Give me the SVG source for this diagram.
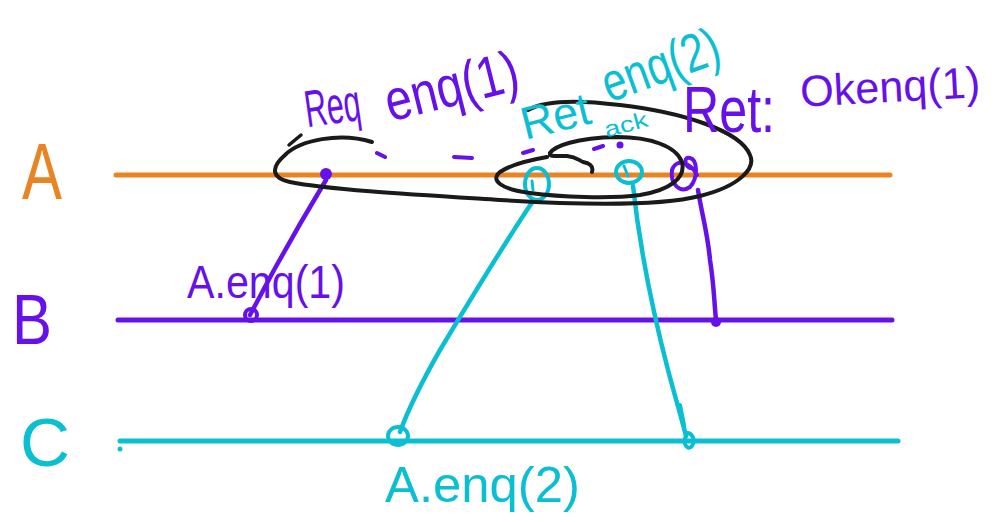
<svg xmlns="http://www.w3.org/2000/svg" width="1004" height="522" viewBox="0 0 1004 522">
<style>
.s{fill:none;stroke-linecap:round;stroke-linejoin:round}
.o{stroke:#ea8422}.p{stroke:#6610ea}.c{stroke:#0bbfd3}.k{stroke:#1a1a1a}
.t{font-family:"Liberation Sans",Arial,sans-serif}
.tp{fill:#6610ea}.tc{fill:#0bbfd3}.to{fill:#ea8422}
</style>
<rect width="1004" height="522" fill="#fff"/>
<g id="timelines">
<line class="s o" x1="116" y1="175" x2="890" y2="175" stroke-width="5"/>
<line class="s p" x1="118" y1="320" x2="892" y2="320" stroke-width="5"/>
<line class="s c" x1="120" y1="441" x2="898" y2="441" stroke-width="5"/>
<circle cx="120" cy="449" r="2.5" fill="#0bbfd3"/>
</g>
<g id="label-A"><text class="t to" x="22" y="199" font-size="80" textLength="40" lengthAdjust="spacingAndGlyphs">A</text></g>
<g id="label-B"><text class="t tp" x="12" y="344" font-size="70" textLength="40" lengthAdjust="spacingAndGlyphs">B</text></g>
<g id="label-C"><text class="t tc" x="20" y="466" font-size="68" textLength="50" lengthAdjust="spacingAndGlyphs">C</text></g>
<g id="connectors">
<path class="s p" stroke-width="4.5" d="M326 180 L300 224 L274 270 L250 315"/>
<path class="s c" stroke-width="4.5" d="M533 201 C500 250 470 300 440 350 C420 385 408 410 400 432"/>
<path class="s c" stroke-width="4.5" d="M633 186 C640 250 655 320 668 370 C676 400 682 420 686 436"/>
<path class="s p" stroke-width="4.5" d="M698 190 C702 215 708 235 710 260 C714 285 714 300 716 320"/>
</g>
<g id="node-A-req"><circle cx="326" cy="174" r="6" fill="#6610ea"/></g>
<g id="node-B-enq1"><circle class="s p" cx="251" cy="315" r="6" stroke-width="4"/></g>
<g id="node-C-enq2"><ellipse class="s c" cx="398" cy="436" rx="10" ry="9" stroke-width="4"/></g>
<g id="node-A-ret"><ellipse class="s c" cx="537" cy="184" rx="12" ry="16" stroke-width="4"/><path class="s c" stroke-width="3" d="M532 181 L533 190"/></g>
<g id="node-A-ack"><ellipse class="s c" cx="629" cy="172" rx="13" ry="11" stroke-width="4"/><path class="s c" stroke-width="3" d="M624 166 L628 176"/></g>
<g id="node-A-ok"><path class="s p" stroke-width="4" d="M697 175 C690 162 676 158 672 170 C670 184 680 194 690 187 C698 178 698 160 690 158 C684 156 684 165 690 168"/></g>
<g id="node-C-ack"><path class="s c" stroke-width="4" d="M680 405 L684 425 M686 433 C692 432 696 440 692 446 C688 451 682 444 686 436"/></g>
<g id="node-B-ok"><circle cx="716" cy="322" r="5" fill="#6610ea"/></g>
<g id="enclosures">
<path class="s k" stroke-width="4" d="M372 142 C340 132 300 140 285 155 C270 168 272 178 290 182 C330 190 420 195 500 200 C580 205 660 206 700 196 C740 186 756 168 750 155 C740 130 680 112 620 105 C580 100 545 100 528 110"/>
<path class="s k" stroke-width="4" d="M592 172 C594 165 588 163 583 162 C578 160 577 157 567 156 C555 156 549 157 550 153 C555 146 575 138 617 137 C650 137 676 146 682 162 C686 178 670 190 640 195 C610 199 560 197 530 193 C500 189 490 180 500 172 C510 165 530 160 547 157"/>
<path class="s k" stroke-width="3.5" d="M289 145 L301 135"/>
</g>
<g id="dashes">
<path class="s p" stroke-width="4" d="M377 153 L385 157 M454 157 L472 158 M523 153 L533 150 M594 149 L603 146"/>
<circle cx="620" cy="145" r="3.5" fill="#6610ea"/>
</g>
<g id="texts">
<text class="t tp" x="305" y="124" font-size="52" textLength="56" lengthAdjust="spacingAndGlyphs" transform="rotate(-8 330 110)">Req</text>
<text class="t tp" x="382" y="106" font-size="58" textLength="136" lengthAdjust="spacingAndGlyphs" transform="rotate(-14 450 80)">enq(1)</text>
<text class="t tc" x="520" y="132" font-size="46" textLength="70" lengthAdjust="spacingAndGlyphs" transform="rotate(-14 555 115)">Ret</text>
<text class="t tc" x="594" y="84" font-size="54" textLength="122" lengthAdjust="spacingAndGlyphs" transform="rotate(-20 655 50)">enq(2)</text>
<text class="t tc" x="604" y="132" font-size="22" textLength="44" lengthAdjust="spacingAndGlyphs" transform="rotate(-15 626 125)">ack</text>
<text class="t tp" x="683" y="132" font-size="64" textLength="92" lengthAdjust="spacingAndGlyphs">Ret:</text>
<text class="t tp" x="800" y="102" font-size="44" textLength="180" lengthAdjust="spacingAndGlyphs" transform="rotate(-3 890 85)">Okenq(1)</text>
<text class="t tp" x="187" y="298" font-size="46" textLength="158" lengthAdjust="spacingAndGlyphs">A.enq(1)</text>
<text class="t tc" x="385" y="502" font-size="50" textLength="195" lengthAdjust="spacingAndGlyphs">A.enq(2)</text>
</g>
</svg>
